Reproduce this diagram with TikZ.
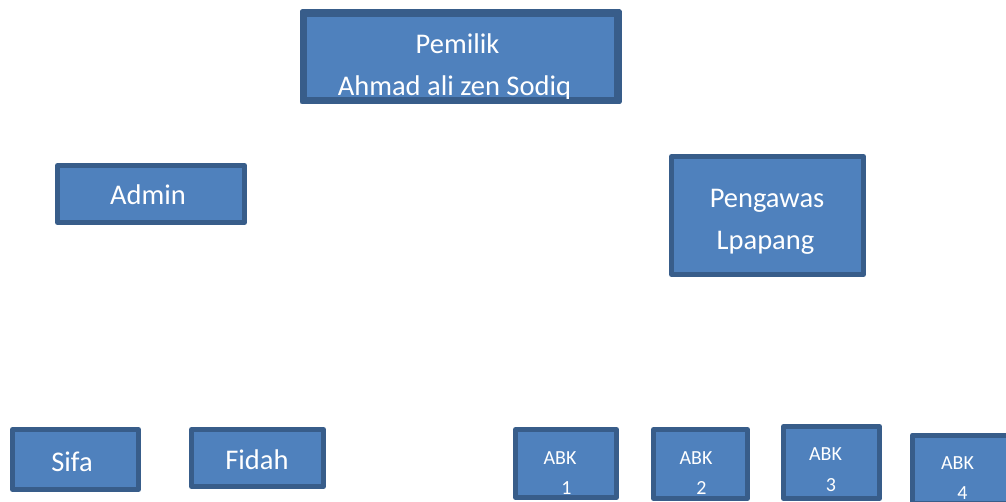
\documentclass[tikz,border=0pt]{standalone}
\usepackage{fontspec}
\setmainfont{Carlito}
\usetikzlibrary{positioning}
\definecolor{orgfill}{RGB}{79,129,189}
\definecolor{orgline}{RGB}{56,93,138}
\tikzstyle{orgbox} = [rectangle, draw=orgline, fill=orgfill, line width=5pt, line join=round, inner sep=0pt]
\tikzstyle{bigtext} = [anchor=base, text=white, inner sep=0pt, font=\fontsize{28.5}{42}\selectfont]
\tikzstyle{smalltext} = [anchor=base, text=white, inner sep=0pt, font=\fontsize{20}{30}\selectfont]

\begin{document}
\begin{tikzpicture}[x=1pt, y=-1pt]
    \clip (0,0) rectangle (1006,502);

    % Pemilik
    \node[orgbox, minimum width=312pt, minimum height=85pt] (pemilik) at (460.5,57) {};
    \begin{scope}
        \clip (pemilik.south west) rectangle (pemilik.north east);
        \node[bigtext] (pemilik1) at (457.5,54) {Pemilik};
        \node[bigtext] (pemilik2) at (454.5,96) {Ahmad ali zen Sodiq};
    \end{scope}
    \draw[orgline, line width=5pt, line join=round] (pemilik.south west) rectangle (pemilik.north east);

    % Admin
    \node[orgbox, minimum width=187pt, minimum height=57pt] (admin) at (151,194) {};
    \node[bigtext] (admin1) at (148,205) {Admin};

    % Pengawas
    \node[orgbox, minimum width=192pt, minimum height=118pt] (pengawas) at (767.5,215.5) {};
    \node[bigtext] (pengawas1) at (767,208) {Pengawas};
    \node[bigtext] (pengawas2) at (765.5,250) {Lpapang};

    % Admin staff
    \node[orgbox, minimum width=126pt, minimum height=60pt] (sifa) at (75.5,459.5) {};
    \node[bigtext] (sifa1) at (72,471) {Sifa};
    \node[orgbox, minimum width=132pt, minimum height=57pt] (fidah) at (257.5,458) {};
    \node[bigtext] (fidah1) at (257,469) {Fidah};

    % ABK
    \node[orgbox, minimum width=101pt, minimum height=68pt] (abk1) at (566,463.5) {};
    \node[smalltext] (abk1a) at (560,464) {ABK};
    \node[smalltext] (abk1b) at (566.5,494) {1};
    \node[orgbox, minimum width=94pt, minimum height=69pt] (abk2) at (700.5,464) {};
    \node[smalltext] (abk2a) at (696,464) {ABK};
    \node[smalltext] (abk2b) at (701.5,494) {2};
    \node[orgbox, minimum width=96pt, minimum height=72pt] (abk3) at (831.5,462.5) {};
    \node[smalltext] (abk3a) at (825.5,460.7) {ABK};
    \node[smalltext] (abk3b) at (831,491.7) {3};
    \node[orgbox, minimum width=97pt, minimum height=68pt] (abk4) at (961,469) {};
    \node[smalltext] (abk4a) at (957.5,469) {ABK};
    \node[smalltext] (abk4b) at (962.5,499) {4};
\end{tikzpicture}
\end{document}
